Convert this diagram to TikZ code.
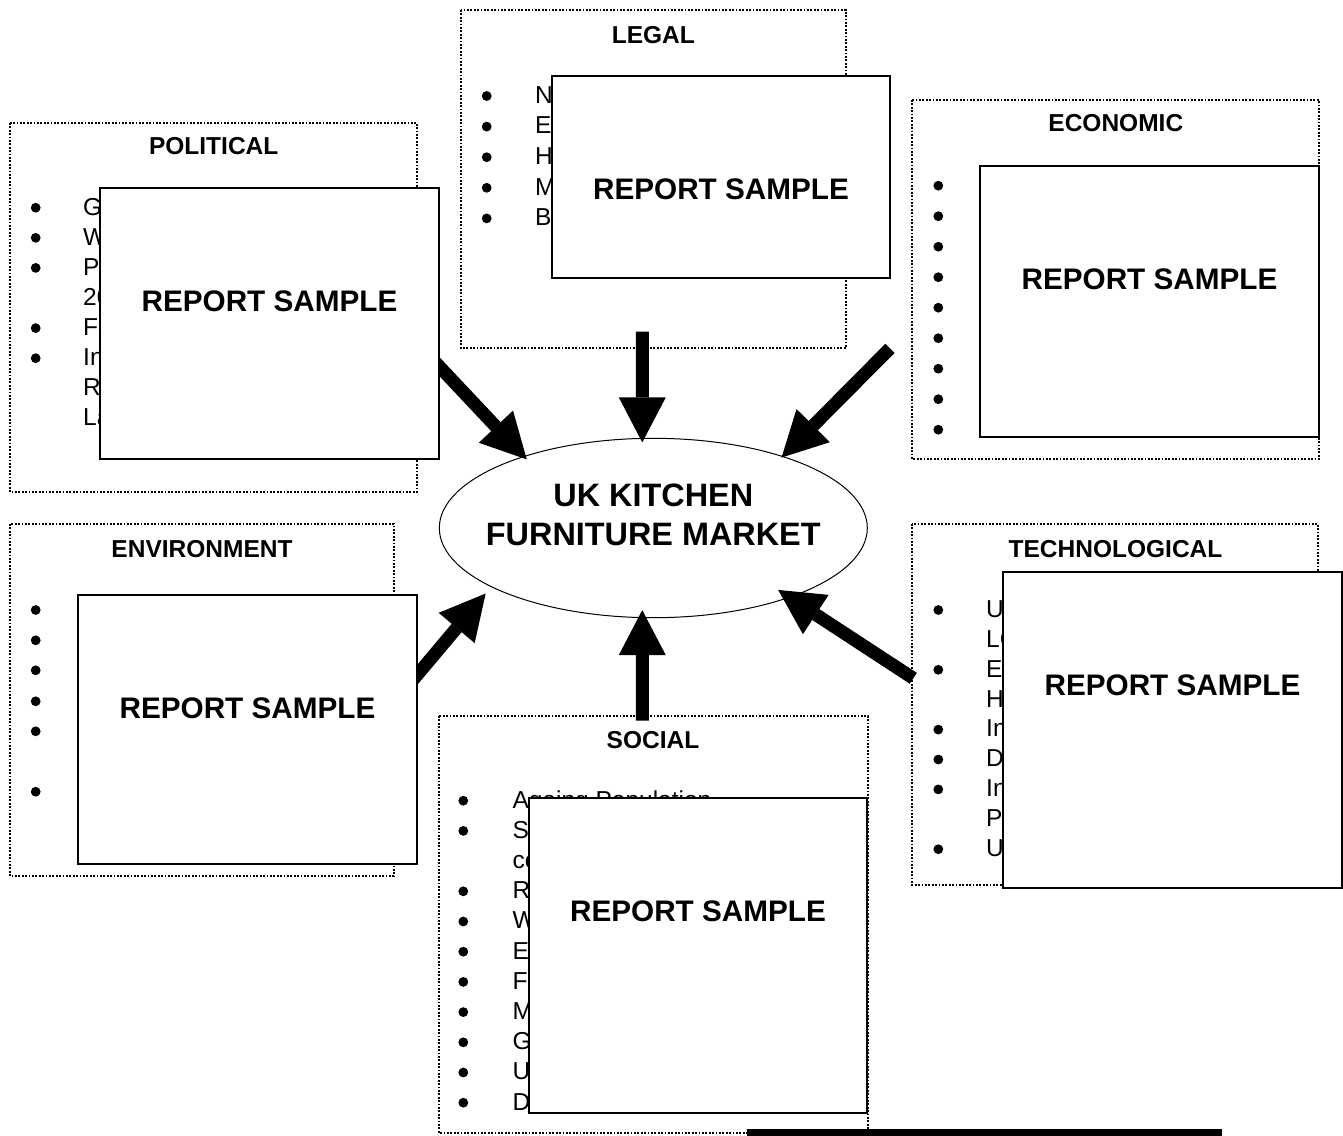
\documentclass[tikz,border=0pt]{standalone}
\usepackage{fontspec}
\setmainfont{Liberation Sans}
\usetikzlibrary{shapes.geometric,arrows.meta}
\begin{document}
\begin{tikzpicture}[x=1pt,y=-1pt,
  dotbox/.style={draw=black,line width=2pt,dash pattern=on 1.8pt off 1.6pt},
  heading/.style={inner sep=0,font=\bfseries\fontsize{24.5}{30}\selectfont},
  body/.style={anchor=base west,inner sep=0,font=\fontsize{24.5}{30}\selectfont},
  repbox/.style={draw,line width=1.8pt,fill=white,rectangle,inner sep=0},
  reptext/.style={inner sep=0,font=\bfseries\fontsize{29.7}{36}\selectfont},
  mkt/.style={inner sep=0,align=center,font=\bfseries\fontsize{32.4}{39.3}\selectfont},
  bigarrow/.style={line width=13pt,-{Triangle[width=47pt,length=45pt,line width=0pt]}}]
\useasboundingbox (0,0) rectangle (1343,1135);
\fill[white] (0,0) rectangle (1343,1135);

% dotted frames
\draw[dotbox] (10,123) rectangle (417,492);
\draw[dotbox] (461,10) rectangle (846,348);
\draw[dotbox] (912,100) rectangle (1319,459);
\draw[dotbox] (10,524) rectangle (394,876);
\draw[dotbox] (912,524) rectangle (1318,885);
\draw[dotbox] (439,716) rectangle (868,1133);

% headings
\node[heading] (hP) at (213.7,146) {POLITICAL};
\node[heading] (hL) at (653.3,35) {LEGAL};
\node[heading] (hE) at (1115.8,123.3) {ECONOMIC};
\node[heading] (hV) at (202,549.3) {ENVIRONMENT};
\node[heading] (hT) at (1115.5,549.3) {TECHNOLOGICAL};
\node[heading] (hS) at (653,740) {SOCIAL};

% political list
\foreach \b/\t [count=\i] in {1/G,1/W,1/P,0/20,1/F,1/In,0/R,0/La}{
  \node[body] (pol\i) at (83,{215+30.1*(\i-1)}) {\t};
  \ifnum\b=1 \fill (35.7,{207.7+30.1*(\i-1)}) circle (4.9); \fi
}
% legal list
\foreach \b/\t [count=\i] in {1/N,1/E,1/H,1/M,1/B}{
  \node[body] (leg\i) at (535,{103.3+30.6*(\i-1)}) {\t};
  \ifnum\b=1 \fill (486.7,{96+30.6*(\i-1)}) circle (4.9); \fi
}
% economic bullets
\foreach \i in {1,...,9}{
  \fill (938.3,{185.7+30.5*(\i-1)}) circle (4.9);
}
% environment bullets
\foreach \y in {610,640.3,670.3,701.3,731.3,791.7}{
  \fill (35.7,\y) circle (4.9);
}
% technological list
\foreach \b/\t [count=\i] in {1/U,0/LC,1/E,0/H,1/In,1/D,1/In,0/P,1/U}{
  \node[body] (tec\i) at (986,{617.3+29.9*(\i-1)}) {\t};
  \ifnum\b=1 \fill (938.3,{610+29.9*(\i-1)}) circle (4.9); \fi
}
% social list
\foreach \b/\t [count=\i] in {1/Ageing Population,1/S,0/co,1/R,1/W,1/E,1/F,1/M,1/G,1/U,1/D}{
  \node[body] (soc\i) at (512.3,{808+30.2*(\i-1)}) {\t};
  \ifnum\b=1 \fill (463.3,{800.7+30.2*(\i-1)}) circle (4.9); \fi
}

% centre
\node[ellipse,draw,line width=1pt,minimum width=428pt,minimum height=179.4pt,inner sep=0] (market) at (653.3,528) {};
\node[mkt] (mktlabel) at (653.3,514.7) {UK KITCHEN\\FURNITURE MARKET};

% arrow starts
\coordinate (sL) at (642.3,331.7);
\coordinate (sS) at (642.3,720.7);
\coordinate (sP) at (429.6,356.2);
\coordinate (sE) at (890,348.3);
\coordinate (sV) at (405.7,688.5);
\coordinate (sT) at (913.3,678.3);

\draw[bigarrow,shorten >=-4.5pt] (sL) -- (market.97);
\draw[bigarrow,shorten >=-8pt] (sS) -- (market.263);
\draw[bigarrow,shorten >=-4.5pt] (sP) -- (market.151.2);
\draw[bigarrow,shorten >=-2pt] (sE) -- (market.29.7);
\draw[bigarrow,shorten >=8.5pt] (sV) -- (market.200);
\draw[bigarrow,shorten >=-14pt] (sT) -- (market.333.4);

% report sample boxes
\node[repbox,minimum width=339pt,minimum height=271pt] (rP) at (269.5,323.5) {};
\node[repbox,minimum width=338pt,minimum height=202pt] (rL) at (721,177) {};
\node[repbox,minimum width=339pt,minimum height=271pt] (rE) at (1149.5,301.5) {};
\node[repbox,minimum width=339pt,minimum height=269pt] (rV) at (247.5,729.5) {};
\node[repbox,minimum width=339pt,minimum height=316pt] (rT) at (1172.5,730) {};
\node[repbox,minimum width=338pt,minimum height=315pt] (rS) at (698,955.5) {};

\foreach \r in {rP,rL,rE,rV,rT,rS}{
  \node[reptext] (\r t) at ([yshift=-114.5pt]\r.north) {REPORT SAMPLE};
}

% black bar at bottom
\fill (747,1129) rectangle (1222,1136);
\end{tikzpicture}
\end{document}
